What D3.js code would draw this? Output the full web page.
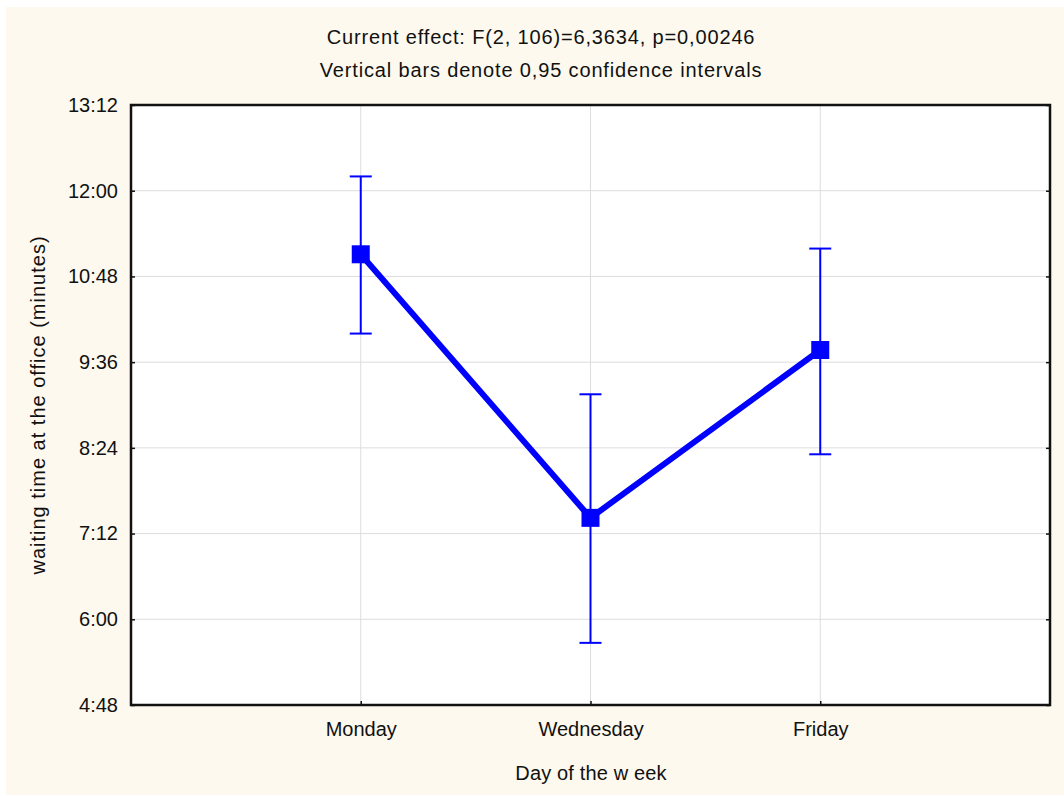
<!DOCTYPE html>
<html>
<head>
<meta charset="utf-8">
<script src="https://cdn.jsdelivr.net/npm/d3@7"></script>
<style>
  body { margin: 0; background: #fff; }
  text { font-family: "Liberation Sans", Arial, sans-serif; fill: #111; }
</style>
</head>
<body>
<div id="graph"></div>
<script>
// values in minutes (4.8 = 4:48)
const days = ["Monday", "Wednesday", "Friday"];
const means = [11.11, 7.42, 9.77];
const ciLow = [10.00, 5.67, 8.31];
const ciHigh = [12.20, 9.15, 11.19];
const yTicks = [4.8, 6.0, 7.2, 8.4, 9.6, 10.8, 12.0, 13.2];
const titleLines = ["Current effect: F(2, 106)=6,3634, p=0,00246", "Vertical bars denote 0,95 confidence intervals"];

const width = 1064, height = 796;
const margin = {top: 105, right: 14, bottom: 91, left: 131};
const plotW = width - margin.left - margin.right;
const plotH = height - margin.top - margin.bottom;

let svg = d3.select("#graph")
    .append("svg")
    .attr("width", width)
    .attr("height", height);

svg.append("rect")
    .attr("x", 6).attr("y", 7)
    .attr("width", width - 6).attr("height", height - 8)
    .attr("fill", "#fdf9ee");

let g = svg.append("g")
    .attr("transform", `translate(${margin.left}, ${margin.top})`);

g.append("rect")
    .attr("width", plotW).attr("height", plotH)
    .attr("fill", "#fff");

// two empty slots at each end
let x = d3.scalePoint()
    .domain(["", ...days, " "])
    .range([0, plotW]);

let y = d3.scaleLinear()
    .domain([4.8, 13.2])
    .range([plotH, 0]);

function fmt(v) {
    let total = Math.round(v * 60);
    let m = Math.floor(total / 60), s = total % 60;
    return `${m}:${String(s).padStart(2, "0")}`;
}

// grid
g.append("g")
    .selectAll("line")
    .data(yTicks.slice(1, -1))
    .join("line")
    .attr("x1", 0).attr("x2", plotW)
    .attr("y1", d => y(d)).attr("y2", d => y(d))
    .attr("stroke", "#dddddd").attr("stroke-width", 1);

g.append("g")
    .selectAll("line")
    .data(days)
    .join("line")
    .attr("x1", d => x(d)).attr("x2", d => x(d))
    .attr("y1", 0).attr("y2", plotH)
    .attr("stroke", "#dddddd").attr("stroke-width", 1);

// axes
let yAxis = g.append("g")
    .call(d3.axisLeft(y).tickValues(yTicks).tickFormat(fmt).tickSize(-4).tickPadding(13));
yAxis.selectAll("text").style("font-size", "20px").attr("fill", "#111");

let yAxisR = g.append("g")
    .attr("transform", `translate(${plotW}, 0)`)
    .call(d3.axisRight(y).tickValues(yTicks).tickFormat("").tickSize(-4));

let xAxis = g.append("g")
    .attr("transform", `translate(0, ${plotH})`)
    .call(d3.axisBottom(x).tickValues(days).tickSize(-4).tickPadding(17));
xAxis.selectAll("text").style("font-size", "20px").attr("fill", "#111");

[yAxis, yAxisR, xAxis].forEach(a => {
    a.select(".domain").remove();
    a.selectAll(".tick line").attr("stroke", "#111").attr("stroke-width", 1.5);
});

g.append("rect")
    .attr("width", plotW).attr("height", plotH)
    .attr("fill", "none").attr("stroke", "#111").attr("stroke-width", 2.5);

// error bars
let data = days.map((d, i) => ({day: d, mean: means[i], lo: ciLow[i], hi: ciHigh[i]}));
let eb = g.append("g").attr("stroke", "#0000ff").attr("stroke-width", 2);
eb.selectAll(".v").data(data).join("line")
    .attr("x1", d => x(d.day)).attr("x2", d => x(d.day))
    .attr("y1", d => y(d.lo)).attr("y2", d => y(d.hi));
eb.selectAll(".hi").data(data).join("line")
    .attr("x1", d => x(d.day) - 11).attr("x2", d => x(d.day) + 11)
    .attr("y1", d => y(d.hi)).attr("y2", d => y(d.hi));
eb.selectAll(".lo").data(data).join("line")
    .attr("x1", d => x(d.day) - 11).attr("x2", d => x(d.day) + 11)
    .attr("y1", d => y(d.lo)).attr("y2", d => y(d.lo));

// mean line + markers
g.append("path")
    .datum(data)
    .attr("fill", "none")
    .attr("stroke", "#0000ff")
    .attr("stroke-width", 6)
    .attr("d", d3.line().x(d => x(d.day)).y(d => y(d.mean)));

g.selectAll(".pt").data(data).join("rect")
    .attr("x", d => x(d.day) - 9).attr("y", d => y(d.mean) - 9)
    .attr("width", 18).attr("height", 18)
    .attr("fill", "#0000ff");

// titles
svg.selectAll(".title").data(titleLines).join("text")
    .attr("x", 541).attr("y", (d, i) => 44 + i * 33)
    .attr("text-anchor", "middle")
    .style("font-size", "20px")
    .style("letter-spacing", "0.85px")
    .text(d => d);

svg.append("text")
    .attr("x", 591).attr("y", 780)
    .attr("text-anchor", "middle")
    .style("font-size", "20px")
    .style("letter-spacing", "0.15px")
    .text("Day of the w eek");

svg.append("text")
    .attr("transform", `translate(45, ${margin.top + plotH / 2}) rotate(-90)`)
    .attr("text-anchor", "middle")
    .style("font-size", "20px")
    .style("letter-spacing", "1px")
    .text("waiting time at the office (minutes)");
</script>
</body>
</html>
